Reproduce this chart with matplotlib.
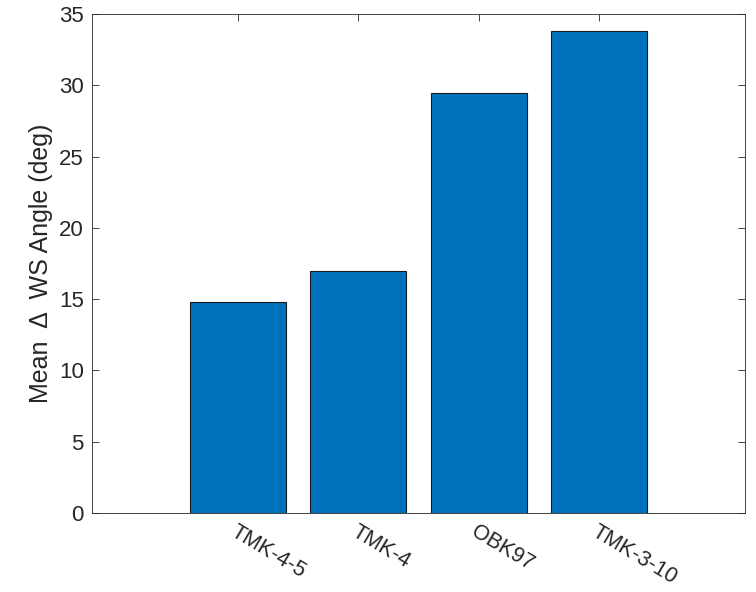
import matplotlib
matplotlib.use("Agg")
import matplotlib.pyplot as plt

categories = ["TMK-4-5", "TMK-4", "OBK97", "TMK-3-10"]
values = [14.82, 16.98, 29.48, 33.82]
yticks = [0, 5, 10, 15, 20, 25, 30, 35]

plt.rcParams['font.family'] = ['Liberation Sans', 'DejaVu Sans']

fig = plt.figure(figsize=(7.56, 5.92), dpi=100)
ax = fig.add_axes([92/756, 1-513/592, (745-92)/756, (513-14)/592])

pos = list(range(1, len(categories)+1))
ax.bar(pos, values, width=0.8, color='#0072BD', edgecolor='#1a1a1a', linewidth=0.8, zorder=2)

ax.set_xlim(-0.21, 5.21)
ax.set_ylim(0, 35)
ax.set_yticks(yticks)
ax.set_xticks(pos)
ax.set_xticklabels(categories, rotation=-31, ha='left', va='top', rotation_mode='anchor')

for s in ax.spines.values():
    s.set_color('#262626')
    s.set_linewidth(0.6)

ax.tick_params(axis='both', direction='in', length=5, width=0.6, color='#262626',
               labelsize=16, labelcolor='#262626', top=True, right=True)
ax.tick_params(axis='x', pad=6, labelsize=15.5)
ax.tick_params(axis='y', pad=6)

ax.set_ylabel("Mean  Δ  WS Angle (deg)", fontsize=18, color='#262626', labelpad=4)

fig.savefig("out.png", dpi=100)
